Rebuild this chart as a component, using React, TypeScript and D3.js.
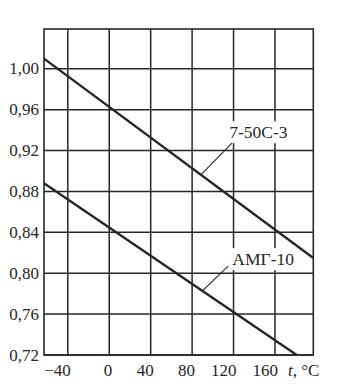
import React from "react";
import * as d3 from "d3";

const xTicks = [-40, 0, 40, 80, 120, 160];
const yTicks = [0.72, 0.76, 0.8, 0.84, 0.88, 0.92, 0.96, 1.0];
const xDomain = [-63, 197];
const yDomain = [0.72, 1.039];

const seriesNames = ["7-50C-3", "АМГ-10"];
const series750 = [
  { t: -63, v: 1.01 },
  { t: 197, v: 0.815 },
];
const seriesAMG = [
  { t: -63, v: 0.888 },
  { t: 181, v: 0.72 },
];
// label placement in data units: text center, leader start, leader end
const labelAnchors = [
  { t: 144, v: 0.938, l1: [118.7, 0.9275], l2: [89.1, 0.897] },
  { t: 148.6, v: 0.8138, l1: [114.8, 0.807], l2: [90.7, 0.7835] },
];

export default function App() {
  const W = 357;
  const H = 389;
  const x = d3.scaleLinear().domain(xDomain).range([44, 313.3]);
  const y = d3.scaleLinear().domain(yDomain).range([355, 29]);
  const line = d3
    .line<{ t: number; v: number }>()
    .x((d) => x(d.t))
    .y((d) => y(d.v));
  const ink = "#262626";
  const font = "'Liberation Serif', 'DejaVu Serif', serif";
  const fmt = (v: number) => v.toFixed(2).replace(".", ",");
  const fmtX = (t: number) => (t < 0 ? "\u2212" + Math.abs(t) : String(t));
  const allSeries = [series750, seriesAMG];

  return (
    <svg
      width={W}
      height={H}
      style={{ position: "absolute", left: 0, top: 0, background: "#fff" }}
      fontFamily={font}
    >
      <rect x={0} y={0} width={W} height={H} fill="#fff" />
      {/* grid */}
      {xTicks.map((t) => (
        <line key={"gx" + t} x1={x(t)} x2={x(t)} y1={y(yDomain[1])} y2={y(yDomain[0])} stroke={ink} strokeWidth={1.5} />
      ))}
      {yTicks.map((v) => (
        <line key={"gy" + v} x1={x(xDomain[0])} x2={x(xDomain[1])} y1={y(v)} y2={y(v)} stroke={ink} strokeWidth={1.5} />
      ))}
      {/* frame */}
      <rect
        x={x(xDomain[0])}
        y={y(yDomain[1])}
        width={x(xDomain[1]) - x(xDomain[0])}
        height={y(yDomain[0]) - y(yDomain[1])}
        fill="none"
        stroke={ink}
        strokeWidth={1.6}
      />
      {/* series lines */}
      {allSeries.map((s, i) => (
        <path key={"s" + i} d={line(s) || ""} fill="none" stroke={ink} strokeWidth={2.4} />
      ))}
      {/* labels */}
      {labelAnchors.map((a, i) => {
        const cx = x(a.t);
        const cy = y(a.v);
        const w = i === 0 ? 64 : 66;
        return (
          <g key={"lab" + i}>
            <rect x={cx - w / 2} y={cy - 11} width={w} height={22} fill="#fff" />
            <line x1={x(a.l1[0])} y1={y(a.l1[1])} x2={x(a.l2[0])} y2={y(a.l2[1])} stroke={ink} strokeWidth={1.1} />
            <text x={cx} y={cy} textAnchor="middle" dominantBaseline="central" fontSize={17.5} fill={ink}>
              {seriesNames[i]}
            </text>
          </g>
        );
      })}
      {/* y tick labels */}
      {yTicks.map((v) => (
        <text key={"ty" + v} x={39} y={y(v)} textAnchor="end" dominantBaseline="central" fontSize={17} fill={ink}>
          {fmt(v)}
        </text>
      ))}
      {/* x tick labels */}
      {xTicks.map((t) => (
        <text key={"tx" + t} x={x(t) + 3} y={370} textAnchor="end" dominantBaseline="central" fontSize={17} fill={ink}>
          {fmtX(t)}
        </text>
      ))}
      <text x={288} y={370} dominantBaseline="central" fontSize={17} fill={ink}>
        <tspan fontStyle="italic">t</tspan>
        <tspan>, °C</tspan>
      </text>
    </svg>
  );
}
